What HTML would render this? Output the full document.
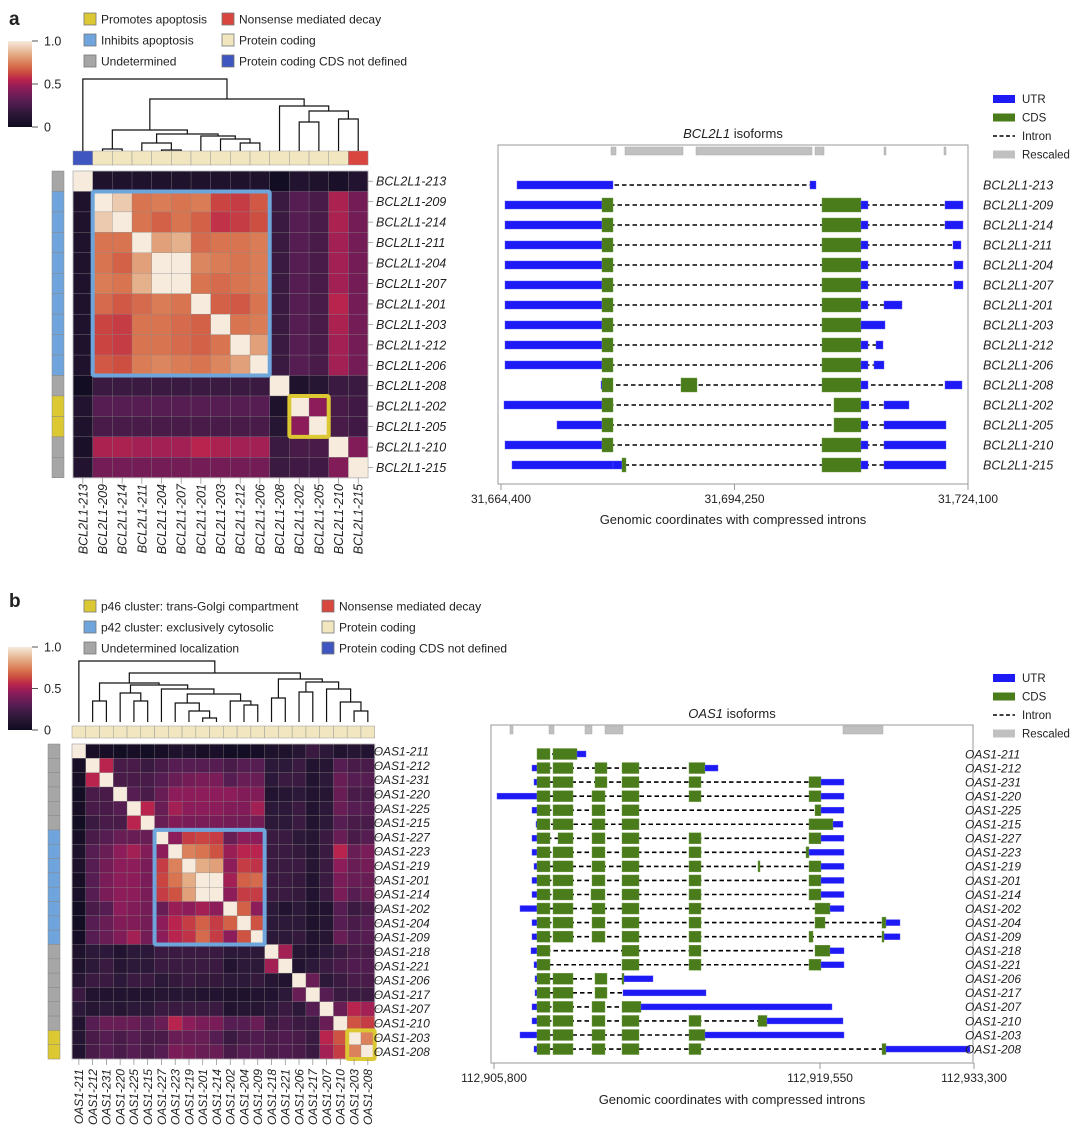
<!DOCTYPE html>
<html><head><meta charset="utf-8"><style>
html,body{margin:0;padding:0;background:#fff;}
svg{display:block;font-family:"Liberation Sans",Arial,sans-serif;}
text{fill:#222;}
</style></head><body>
<svg id="fig" width="1080" height="1138" viewBox="0 0 1080 1138" xmlns="http://www.w3.org/2000/svg">
<defs>
<linearGradient id="cmap" x1="0" y1="1" x2="0" y2="0">
<stop offset="0" stop-color="#0e0b1f"/><stop offset="0.15" stop-color="#2c1838"/><stop offset="0.3" stop-color="#561d52"/><stop offset="0.45" stop-color="#8c1c5a"/><stop offset="0.55" stop-color="#b8244d"/><stop offset="0.63" stop-color="#cc4a40"/><stop offset="0.72" stop-color="#d8744f"/><stop offset="0.85" stop-color="#e4ad86"/><stop offset="1" stop-color="#f6ebdd"/>
</linearGradient>
</defs>
</svg>
<script>
// ---------- DATA ----------
const labelsA = ['BCL2L1-213','BCL2L1-209','BCL2L1-214','BCL2L1-211','BCL2L1-204','BCL2L1-207','BCL2L1-201','BCL2L1-203','BCL2L1-212','BCL2L1-206','BCL2L1-208','BCL2L1-202','BCL2L1-205','BCL2L1-210','BCL2L1-215'];
const matrixA = [
[1,.08,.08,.08,.08,.08,.08,.08,.08,.08,.02,.1,.08,.06,.1],
[.08,1,.92,.72,.74,.72,.74,.62,.6,.66,.2,.3,.25,.52,.38],
[.08,.92,1,.72,.68,.72,.68,.58,.6,.64,.2,.3,.25,.52,.38],
[.08,.72,.72,1,.82,.86,.7,.72,.72,.74,.2,.3,.25,.5,.38],
[.08,.72,.68,.82,1,1,.76,.74,.72,.74,.2,.3,.25,.5,.38],
[.08,.74,.72,.86,1,1,.72,.7,.72,.74,.2,.3,.25,.5,.38],
[.08,.7,.66,.7,.74,.72,1,.68,.66,.72,.2,.3,.25,.55,.38],
[.08,.62,.6,.72,.72,.7,.68,1,.72,.74,.2,.3,.25,.52,.38],
[.08,.62,.6,.72,.72,.7,.68,.72,1,.82,.2,.3,.25,.5,.38],
[.08,.66,.64,.74,.76,.74,.72,.76,.82,1,.2,.3,.25,.5,.38],
[.02,.2,.2,.2,.2,.2,.2,.2,.2,.2,1,.08,.12,.2,.2],
[.1,.3,.3,.3,.3,.3,.3,.3,.3,.3,.08,1,.45,.25,.22],
[.08,.25,.25,.25,.25,.25,.25,.25,.25,.25,.12,.45,1,.25,.22],
[.06,.52,.52,.5,.5,.5,.55,.52,.5,.5,.2,.25,.25,1,.42],
[.1,.38,.38,.38,.38,.38,.38,.38,.38,.38,.2,.22,.22,.42,1]];
const rowAnnA = ['G','B','B','B','B','B','B','B','B','B','G','Y','Y','G','G'];
const colAnnA = ['N','P','P','P','P','P','P','P','P','P','P','P','P','P','M'];
const treeA = [[1,2,149],[4,5,150],[3,16,143],[8,9,143],[7,18,139],[6,19,136],[17,20,134],[15,21,130],[11,12,122],[13,14,119],[23,24,111],[10,25,106],[22,26,99],[0,27,79]];

const labelsB = ['OAS1-211','OAS1-212','OAS1-231','OAS1-220','OAS1-225','OAS1-215','OAS1-227','OAS1-223','OAS1-219','OAS1-201','OAS1-214','OAS1-202','OAS1-204','OAS1-209','OAS1-218','OAS1-221','OAS1-206','OAS1-217','OAS1-207','OAS1-210','OAS1-203','OAS1-208'];
const matrixB = [
[1,.05,.05,.03,.05,.03,.05,.08,.08,.05,.06,.03,.03,.04,.08,.08,.12,.2,.15,.1,.12,.1],
[.05,1,.55,.25,.25,.2,.25,.3,.3,.3,.3,.25,.3,.3,.15,.15,.2,.1,.12,.3,.25,.25],
[.05,.55,1,.25,.25,.25,.3,.35,.38,.4,.4,.3,.35,.35,.15,.2,.2,.1,.15,.35,.3,.3],
[.03,.25,.25,1,.3,.25,.35,.45,.45,.45,.45,.45,.42,.42,.1,.12,.15,.1,.12,.35,.25,.25],
[.05,.25,.25,.3,1,.55,.35,.5,.45,.45,.45,.42,.42,.5,.15,.15,.2,.1,.15,.35,.3,.3],
[.03,.2,.25,.25,.55,1,.35,.42,.4,.4,.4,.38,.38,.38,.15,.15,.2,.1,.15,.3,.25,.25],
[.05,.25,.3,.35,.35,.35,1,.45,.6,.62,.6,.35,.45,.45,.2,.2,.15,.12,.2,.35,.25,.3],
[.08,.3,.35,.45,.5,.42,.45,1,.75,.72,.65,.48,.55,.55,.2,.2,.18,.12,.2,.55,.35,.4],
[.08,.3,.38,.45,.45,.4,.6,.75,1,.85,.82,.45,.6,.58,.2,.2,.2,.12,.2,.45,.35,.38],
[.05,.3,.4,.45,.45,.4,.62,.72,.85,1,1,.5,.68,.7,.2,.2,.18,.1,.2,.4,.35,.35],
[.06,.3,.4,.45,.45,.4,.6,.65,.82,1,1,.45,.6,.6,.2,.2,.18,.1,.2,.4,.3,.35],
[.03,.25,.3,.45,.42,.38,.35,.48,.45,.5,.45,1,.68,.45,.15,.1,.15,.08,.1,.3,.2,.25],
[.03,.3,.35,.42,.42,.38,.45,.55,.6,.68,.6,.68,1,.65,.15,.15,.15,.08,.12,.3,.25,.3],
[.04,.3,.35,.42,.5,.38,.45,.55,.58,.7,.6,.45,.65,1,.15,.15,.18,.1,.12,.35,.28,.3],
[.08,.15,.15,.1,.15,.15,.2,.2,.2,.2,.2,.15,.15,.15,1,.5,.12,.1,.15,.2,.25,.25],
[.08,.15,.2,.12,.15,.15,.2,.2,.2,.2,.2,.1,.15,.15,.5,1,.1,.15,.2,.25,.28,.28],
[.12,.2,.2,.15,.2,.2,.15,.18,.2,.18,.18,.15,.15,.18,.12,.1,1,.35,.15,.2,.25,.25],
[.2,.1,.1,.1,.1,.1,.12,.12,.12,.1,.1,.08,.08,.1,.1,.15,.35,1,.3,.2,.2,.2],
[.15,.12,.15,.12,.15,.15,.2,.2,.2,.2,.2,.1,.12,.12,.15,.2,.15,.3,1,.35,.55,.5],
[.1,.3,.35,.35,.35,.3,.35,.55,.45,.4,.4,.3,.3,.35,.2,.25,.2,.2,.35,1,.65,.6],
[.12,.25,.3,.25,.3,.25,.25,.35,.35,.35,.3,.2,.25,.28,.25,.28,.25,.2,.55,.65,1,.75],
[.1,.25,.3,.25,.3,.25,.3,.4,.38,.35,.35,.25,.3,.3,.25,.28,.25,.2,.5,.6,.75,1]];
const rowAnnB = ['G','G','G','G','G','G','B','B','B','B','B','B','B','B','G','G','G','G','G','G','Y','Y'];
const colAnnB = ['P','P','P','P','P','P','P','P','P','P','P','P','P','P','P','P','P','P','P','P','P','P'];
const treeB = [[1,2,701],[4,5,701],[3,23,693],[9,10,718],[8,25,711],[7,26,703],[12,13,705],[11,28,701],[27,29,694],[6,30,689],[24,31,685],[22,32,683],[14,15,698],[16,17,692],[20,21,711],[19,36,702],[18,37,689],[35,38,682],[34,39,679],[33,40,673],[0,41,661]];

// isoform structures: [type, start, end] in compressed-coordinate units
const isoA = [
[['U',16,112],['U',309,315]],
[['U',4,101],['C',101,112],['C',321,360],['U',360,367],['U',444,462]],
[['U',4,101],['C',101,112],['C',321,360],['U',360,367],['U',444,462]],
[['U',4,101],['C',101,112],['C',321,360],['U',360,367],['U',452,460]],
[['U',4,101],['C',101,112],['C',321,360],['U',360,367],['U',453,462]],
[['U',4,101],['C',101,112],['C',321,360],['U',360,367],['U',453,462]],
[['U',4,101],['C',101,112],['C',321,360],['U',360,367],['U',383,401]],
[['U',4,101],['C',101,112],['C',321,360],['U',360,384]],
[['U',4,101],['C',101,112],['C',321,360],['U',360,367],['U',375,382]],
[['U',4,101],['C',101,112],['C',321,360],['U',360,367],['U',373,383]],
[['U',100,101],['C',101,112],['C',180,196],['C',321,360],['U',360,367],['U',444,461]],
[['U',3,101],['C',101,112],['C',333,360],['U',360,368],['U',383,408]],
[['U',56,101],['C',101,112],['C',333,360],['U',360,367],['U',383,445]],
[['U',4,101],['C',101,112],['C',321,360],['U',360,367],['U',383,445]],
[['U',11,112],['U',112,121],['C',121,125],['C',321,360],['U',360,367],['U',383,445]]];
const rescaledA = [[110,115],[124,182],[195,311],[314,323],[383,385],[443,445]];
const ticksA = [0,233.5,467];
const tickLabelsA = ['31,664,400','31,694,250','31,724,100'];

const E1=['C',43,56],E2=['C',59,79],E3=['C',98,111],E3b=['C',101,113],E4=['C',128,145],E5=['C',195,207],E6=['C',315,327],UE=['U',327,350];
const isoB = [
[E1,['C',59,83],['U',83,92]],
[['U',38,43],E1,E2,E3b,E4,['C',195,211],['U',211,224]],
[['U',40,43],E1,E2,E3b,E4,E5,E6,UE],
[['U',3,43],E1,E2,E3,E4,E5,E6,UE],
[['U',38,43],E1,E2,E3,E4,['C',321,327],UE],
[['U',42,43],E1,E2,E3,E4,['C',315,339],['U',339,349]],
[['U',38,43],E1,['C',64,79],E3,E4,E5,E6,UE],
[['U',38,43],E1,E2,E3,E4,E5,['C',312,315],['U',315,350]],
[['U',40,43],E1,E2,E3,E4,E5,['C',264,266],E6,UE],
[['U',38,43],E1,E2,E3,E4,E5,E6,UE],
[['U',38,43],E1,E2,['C',97,111],E4,E5,E6,UE],
[['U',26,43],E1,E2,E3,E4,E5,['C',321,336],['U',336,350]],
[['U',38,43],E1,E2,E3,E4,E5,['C',321,331],['C',388,392],['U',392,406]],
[['U',38,43],E1,E2,E3,E4,E5,['C',315,319],['U',389,406],['C',388,390]],
[['U',37,43],E1,E4,E5,['C',321,336],['U',336,350]],
[['U',40,43],E1,E4,E5,E6,UE],
[['U',41,43],E1,E2,E3b,['C',128,130],['U',130,159]],
[['U',41,43],E1,E2,E3b,['U',129,212]],
[['U',38,43],E1,E2,E3,['C',128,147],['U',147,338]],
[['U',38,43],E1,E2,E3,E4,E5,['C',264,273],['U',273,349]],
[['U',26,43],E1,E2,E3,E4,['C',195,211],['U',211,350]],
[['U',40,43],E1,E2,E3,E4,E5,['C',388,392],['U',392,476]]];
const rescaledB = [[16,19],[55,60],[91,98],[111,129],[349,389]];
const ticksB = [0,326,480];
const tickLabelsB = ['112,905,800','112,919,550','112,933,300'];

// ---------- HELPERS ----------
const NS='http://www.w3.org/2000/svg';
const svg=document.getElementById('fig');
function mk(tag,attrs,parent,txt){const e=document.createElementNS(NS,tag);for(const k in attrs)e.setAttribute(k,attrs[k]);if(txt!==undefined)e.textContent=txt;(parent||svg).appendChild(e);return e;}
const stops=[[0,[14,11,31]],[.15,[44,24,56]],[.3,[86,29,82]],[.45,[140,28,90]],[.55,[184,36,77]],[.63,[204,74,64]],[.72,[216,116,79]],[.85,[228,173,134]],[1,[246,235,221]]];
function cmap(v){v=Math.max(0,Math.min(1,v));for(let i=1;i<stops.length;i++){if(v<=stops[i][0]){const a=stops[i-1],b=stops[i];const t=(v-a[0])/(b[0]-a[0]);const c=a[1].map((x,j)=>Math.round(x+(b[1][j]-x)*t));return `rgb(${c[0]},${c[1]},${c[2]})`;}}return 'rgb(246,235,221)';}
const annColors={G:'#a6a6a6',B:'#6fa5dc',Y:'#dcc832',P:'#f1e6bf',N:'#3f55bf',M:'#d9453f'};

function text(x,y,s,size,opts,parent){const t=mk('text',Object.assign({x:x,y:y,'font-size':size},opts||{}),parent,s);return t;}

function legendItem(x,y,color,label,name,parent){
  const g=mk('g',{},parent);
  
  
  mk('rect',{x:x,y:y-6,width:12,height:12,fill:color,stroke:'#777','stroke-width':0.8},g);
  text(x+17,y+4.5,label,12,{},g);
}

function colorbar(x,y0,y1,name){
  const g=mk('g',{});
  
  
  mk('rect',{x:x,y:y0,width:24,height:y1-y0,fill:'url(#cmap)'},g);
  const vals=[1,0.5,0],labs=['1.0','0.5','0'];
  vals.forEach((v,i)=>{const yy=y1-(y1-y0)*v;mk('line',{x1:x+24,x2:x+30,y1:yy,y2:yy,stroke:'#555'},g);text(x+36,yy+4.5,labs[i],12.5,{},g);});
}

function heatmap(cfg){
  const {x0,y0,cw,ch,M,labels,rowAnn,colAnn,tree,leafY,annY,annH,rowAnnX,fs,colLabY,prefix,blue,yellow,labOff}=cfg;
  const n=labels.length;
  const g=mk('g',{});
  
  
  const cx=i=>x0+cw*(i+0.5), cy=i=>y0+ch*(i+0.5);
  for(let r=0;r<n;r++)for(let c=0;c<n;c++){
    const cell=mk('rect',{x:x0+c*cw,y:y0+r*ch,width:cw+0.2,height:ch+0.2,fill:cmap(M[r][c]),stroke:'#8a8a8a','stroke-width':0.35},g);
    
    
  }
  mk('rect',{x:x0,y:y0,width:cw*n,height:ch*n,fill:'none',stroke:'#bbb','stroke-width':0.8},g);
  [[blue,'#6ea6dc','blue-cluster-box'],[yellow,'#dcc832','yellow-cluster-box']].forEach(([b,col,nm])=>{
    const r=mk('rect',{x:x0+b[0]*cw,y:y0+b[0]*ch,width:(b[1]-b[0]+1)*cw,height:(b[1]-b[0]+1)*ch,fill:'none',stroke:col,'stroke-width':4,rx:1.5},g);
    
    
  });
  for(let r=0;r<n;r++){const a=mk('rect',{x:rowAnnX,y:y0+r*ch,width:12,height:ch,fill:annColors[rowAnn[r]],stroke:'#888','stroke-width':0.5});
    
    }
  for(let c=0;c<n;c++){const a=mk('rect',{x:x0+c*cw,y:annY,width:cw,height:annH,fill:annColors[colAnn[c]],stroke:'#999','stroke-width':0.5});
    
    }
  for(let r=0;r<n;r++){
    mk('line',{x1:x0+cw*n,x2:x0+cw*n+5,y1:cy(r),y2:cy(r),stroke:'#888','stroke-width':0.7});
    const t=text(x0+cw*n+labOff,cy(r)+fs*0.36,labels[r],fs,{'font-style':'italic'});
    
    
  }
  for(let c=0;c<n;c++){
    mk('line',{x1:cx(c),x2:cx(c),y1:y0+ch*n,y2:y0+ch*n+6,stroke:'#888','stroke-width':0.7});
    const t=text(0,0,labels[c],fs,{'font-style':'italic','text-anchor':'end',transform:`translate(${cx(c)+fs*0.36},${colLabY}) rotate(-90)`});
    
    
  }
  const dg=mk('g',{stroke:'#111','stroke-width':1.2,fill:'none'});
  
  
  const nx=[],ny=[];
  for(let i=0;i<n;i++){nx[i]=cx(i);ny[i]=leafY;}
  tree.forEach((nd,k)=>{const [a,b,h]=nd;const id=n+k;nx[id]=(nx[a]+nx[b])/2;ny[id]=h;
    mk('path',{d:`M${nx[a]},${ny[a]}V${h}H${nx[b]}V${ny[b]}`},dg);});
}

function isoforms(cfg){
  const {bx,by,bw,bh,x0,domain,rows,rowY0,rowStep,uh,ch,labels,labX,fs,resc,rescY,ticks,tickLabels,title,prefix,axTitleY}=cfg;
  const g=mk('g',{});
  
  
  const sx=u=>x0+u*(domain[1]/domain[0]);
  mk('rect',{x:bx,y:by,width:bw,height:bh,fill:'none',stroke:'#999','stroke-width':1},g);
  const tt=mk('text',{x:bx+bw/2,y:by-7,'font-size':13,'text-anchor':'middle'},g);
  
  
  mk('tspan',{'font-style':'italic'},tt,title);mk('tspan',{},tt,' isoforms');
  resc.forEach(r=>{const e=mk('rect',{x:sx(r[0]),y:rescY,width:Math.max(1.5,sx(r[1])-sx(r[0])),height:8,fill:'#c0c0c0',stroke:'#aaa','stroke-width':0.5},g);
    
    });
  rows.forEach((segs,i)=>{
    const y=rowY0+i*rowStep;
    const rg=mk('g',{},g);
    
    
    let mn=Infinity,mxv=-Infinity;segs.forEach(s=>{mn=Math.min(mn,s[1]);mxv=Math.max(mxv,s[2]);});
    mk('line',{x1:sx(mn),x2:sx(mxv),y1:y,y2:y,stroke:'#000','stroke-width':1.6,'stroke-dasharray':'4.5,3'},rg);
    segs.forEach(s=>{const h=s[0]==='U'?uh:ch;
      const e=mk('rect',{x:sx(s[1]),y:y-h/2,width:Math.max(1.2,sx(s[2])-sx(s[1])),height:h,fill:s[0]==='U'?'#1e1af5':'#4a7c1b',stroke:s[0]==='U'?'#5a55f5':'#6e9a45','stroke-width':0.4},rg);
      
      });
    const t=text(labX,y+fs*0.36,labels[i],fs,{'font-style':'italic'});
    
    
  });
  ticks.forEach((t,i)=>{const x=sx(t);mk('line',{x1:x,x2:x,y1:by+bh,y2:by+bh+6,stroke:'#999'},g);
    const l=text(x,by+bh+19,tickLabels[i],12,{'text-anchor':'middle'},g);
    
    });
  const at=text(bx+bw/2+0,axTitleY,'Genomic coordinates with compressed introns',13,{'text-anchor':'middle'},g);
  
  
}

function geneLegend(x,y0,step,name){
  const g=mk('g',{});
  
  
  mk('rect',{x:x,y:y0-4,width:22,height:8,fill:'#1e1af5'},g);text(x+29,y0+4,'UTR',11.5,{},g);
  mk('rect',{x:x,y:y0+step-4,width:22,height:8,fill:'#4a7c1b'},g);text(x+29,y0+step+4,'CDS',11.5,{},g);
  mk('line',{x1:x,x2:x+22,y1:y0+2*step,y2:y0+2*step,stroke:'#000','stroke-width':1.6,'stroke-dasharray':'4,2.5'},g);text(x+29,y0+2*step+4,'Intron',11.5,{},g);
  mk('rect',{x:x,y:y0+3*step-4,width:22,height:8,fill:'#c0c0c0'},g);text(x+29,y0+3*step+4,'Rescaled',11.5,{},g);
}

// ---------- PANEL A ----------
const pa=text(9,25,'a',19,{'font-weight':'bold'});


legendItem(84,19,'#dcc832','Promotes apoptosis','legend-promotes-apoptosis');
legendItem(84,40,'#6fa5dc','Inhibits apoptosis','legend-inhibits-apoptosis');
legendItem(84,61,'#a6a6a6','Undetermined','legend-undetermined');
legendItem(222,19,'#d9453f','Nonsense mediated decay','legend-nmd');
legendItem(222,40,'#f1e6bf','Protein coding','legend-protein-coding');
legendItem(222,61,'#3f55bf','Protein coding CDS not defined','legend-cds-not-defined');
colorbar(8,41,127,'colorbar-a');
heatmap({x0:73,y0:171,cw:19.67,ch:20.45,M:matrixA,labels:labelsA,rowAnn:rowAnnA,colAnn:colAnnA,tree:treeA,leafY:151,annY:151,annH:14,rowAnnX:52,fs:12.5,colLabY:484,prefix:'a',blue:[1,9],yellow:[11,12],labOff:8});
geneLegend(993,99,18.5,'gene-legend-a');
isoforms({bx:498,by:145,bw:470,bh:339,x0:501,domain:[467,467],rows:isoA,rowY0:185,rowStep:20,uh:8,ch:14,labels:labelsA,labX:983,fs:12.5,resc:rescaledA,rescY:147,ticks:ticksA,tickLabels:tickLabelsA,title:'BCL2L1',prefix:'a',axTitleY:524});

// ---------- PANEL B ----------
const pb=text(9,607,'b',19,{'font-weight':'bold'});


legendItem(84,606,'#dcc832','p46 cluster: trans-Golgi compartment','legend-p46');
legendItem(84,627,'#6fa5dc','p42 cluster: exclusively cytosolic','legend-p42');
legendItem(84,648,'#a6a6a6','Undetermined localization','legend-undetermined-loc');
legendItem(322,606,'#d9453f','Nonsense mediated decay','legend-nmd-b');
legendItem(322,627,'#f1e6bf','Protein coding','legend-protein-coding-b');
legendItem(322,648,'#3f55bf','Protein coding CDS not defined','legend-cds-not-defined-b');
colorbar(8,647,730,'colorbar-b');
heatmap({x0:72,y0:744,cw:13.76,ch:14.32,M:matrixB,labels:labelsB,rowAnn:rowAnnB,colAnn:colAnnB,tree:treeB,leafY:722,annY:726,annH:12,rowAnnX:48,fs:12,colLabY:1069,prefix:'b',blue:[6,13],yellow:[20,21],labOff:-1});
geneLegend(993,678,18.5,'gene-legend-b');
isoforms({bx:491,by:725,bw:482,bh:338,x0:494,domain:[480,480],rows:isoB,rowY0:754,rowStep:14.05,uh:6,ch:11,labels:labelsB,labX:965,fs:12,resc:rescaledB,rescY:726,ticks:ticksB,tickLabels:tickLabelsB,title:'OAS1',prefix:'b',axTitleY:1104});
</script>
</body></html>
